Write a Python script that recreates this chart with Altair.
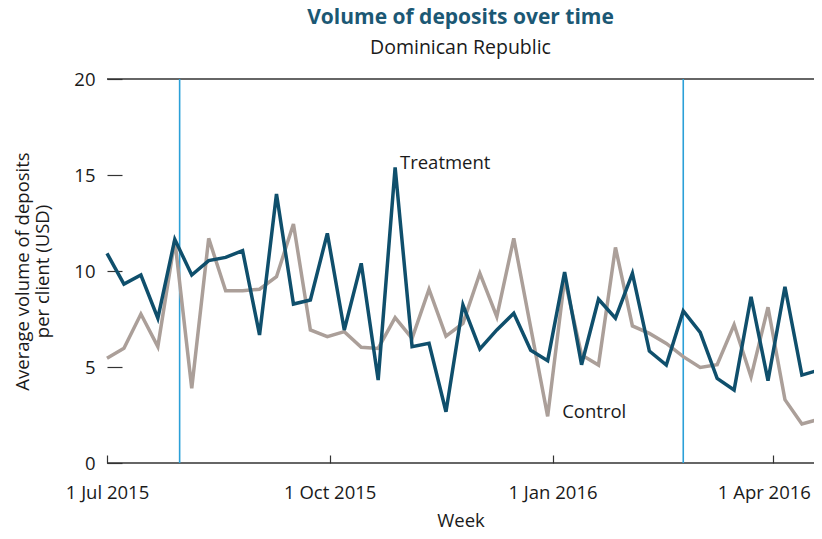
import altair as alt
import pandas as pd

# ---- data ----
start_date = "2015-07-01"
n_weeks = 43
treatment = [10.92, 9.32, 9.79, 7.54, 11.65, 9.79, 10.54, 10.71, 11.06, 6.67,
             14.01, 8.28, 8.49, 11.96, 6.93, 10.40, 4.32, 15.40, 6.06, 6.23,
             2.67, 8.23, 5.94, 6.93, 7.80, 5.87, 5.33, 9.95, 5.12, 8.53,
             7.54, 9.88, 5.83, 5.10, 7.92, 6.80, 4.41, 3.80, 8.66, 4.29,
             9.18, 4.58, 4.84]
control = [5.45, 5.97, 7.76, 6.06, 11.61, 3.89, 11.70, 8.97, 8.97, 9.05,
           9.70, 12.45, 6.93, 6.58, 6.84, 6.03, 5.97, 7.57, 6.49, 9.05,
           6.61, 7.27, 9.88, 7.62, 11.70, 7.05, 2.43, 9.60, 5.63, 5.10,
           11.23, 7.14, 6.75, 6.23, 5.54, 4.98, 5.12, 7.20, 4.49, 8.11,
           3.30, 2.03, 2.28]
event_dates = ["2015-07-31", "2016-02-24"]
y_ticks = [0, 5, 10, 15, 20]
x_tick_dates = [(2015, 7, 1), (2015, 10, 1), (2016, 1, 1), (2016, 4, 1)]
labels = ["Treatment", "Control"]
label_dates = ["2015-10-30", "2016-01-05"]
label_values = [15.6, 2.65]

dates = [d.strftime("%Y-%m-%d") for d in pd.date_range(start_date, periods=n_weeks, freq="7D")]
df_t = pd.DataFrame({"date": dates, "value": treatment})
df_c = pd.DataFrame({"date": dates, "value": control})
df_ev = pd.DataFrame({"date": event_dates})
df_lab = pd.DataFrame({"date": label_dates, "value": label_values, "label": labels})
df_top = pd.DataFrame({"value": [20]})
df_base = pd.DataFrame({"value": [0]})

FONT = "Open Sans"
TXT = "#1a1a1a"
AX = "#333333"

xscale = alt.Scale(type="utc",
                   domain=[alt.DateTime(year=2015, month=7, date=1, utc=True),
                           alt.DateTime(year=2016, month=4, date=18, utc=True)])
yscale = alt.Scale(domain=[0, 20], nice=False)

xaxis = alt.Axis(values=[alt.DateTime(year=y, month=m, date=d, utc=True) for y, m, d in x_tick_dates],
                 format="%-d %b %Y", domain=False, grid=False, offset=-8, tickSize=8,
                 tickColor=AX, tickWidth=1.2, labelPadding=20, labelFontSize=18.5,
                 labelOffset={"condition": {"test": "datum.value > 1454284800000", "value": -9},
                              "value": 0},
                 labelFont=FONT, labelColor=TXT, title="Week", titleFont=FONT,
                 titleFontSize=18.5, titleFontWeight="normal", titleColor=TXT,
                 titlePadding=10, labelFlush=False)
yaxis = alt.Axis(values=y_ticks, domain=False, grid=False, offset=-15, tickSize=15,
                 tickColor=AX, tickWidth=1.2, labelPadding=12, labelFontSize=18.5,
                 labelFont=FONT, labelColor=TXT,
                 title=["Average volume of deposits", "per client (USD)"],
                 titleFont=FONT, titleFontSize=18.5, titleFontWeight="normal",
                 titleColor=TXT, titlePadding=21)

X = alt.X("date:T", scale=xscale, axis=xaxis)
Y = alt.Y("value:Q", scale=yscale, axis=yaxis)

top_rule = alt.Chart(df_top).mark_rule(color=AX, strokeWidth=1.3).encode(y=Y)
base_rule = alt.Chart(df_base).mark_rule(color=AX, strokeWidth=1.6).encode(y=Y)
events = alt.Chart(df_ev).mark_rule(color="#2ba0d8", strokeWidth=1.6).encode(x=X)
line_c = alt.Chart(df_c).mark_line(color="#ab9f99", strokeWidth=3.5).encode(x=X, y=Y)
line_t = alt.Chart(df_t).mark_line(color="#0f4f6c", strokeWidth=3.5).encode(x=X, y=Y)
texts = alt.Chart(df_lab).mark_text(align="left", baseline="middle", font=FONT,
                                    fontSize=18.5, color=TXT).encode(x=X, y=Y, text="label:N")

chart = alt.layer(top_rule, base_rule, events, line_c, line_t, texts).properties(
    width=707, height=384,
    autosize=alt.AutoSizeParams(type="none"),
    padding={"left": 99, "top": 71, "right": 0, "bottom": 67},
    title=alt.TitleParams(text="Volume of deposits over time", subtitle="Dominican Republic",
                          anchor="middle", frame="group", font=FONT, fontSize=21,
                          fontWeight="bold", color="#1b5874", subtitleFont=FONT,
                          subtitleFontSize=19.5, subtitleColor=TXT, subtitlePadding=11,
                          offset=13)
).configure_view(stroke=None)

chart.save("out.html", embed_options={"renderer": "svg", "actions": False})
